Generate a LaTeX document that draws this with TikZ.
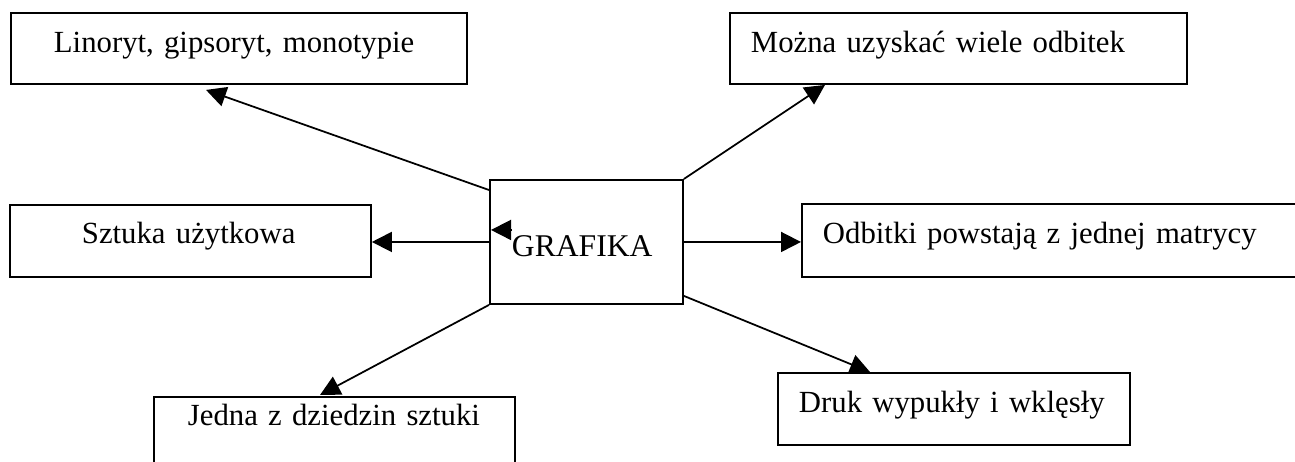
\documentclass[tikz,border=0pt]{standalone}
\usepackage{fontspec}
\setmainfont{Liberation Serif}
\usepackage{tikz}
\usetikzlibrary{arrows.meta,calc}
\setlength{\parindent}{0pt}

\begin{document}
\begin{tikzpicture}[x=0.02cm,y=-0.02cm]
\useasboundingbox (0,0) rectangle (1295,461);
\clip (0,0) rectangle (1295,461);
\begin{scope}[every node/.style={rectangle,draw,fill=white,line width=1.1pt,
              inner sep=0pt,anchor=north west,align=left,
              font=\fontsize{17.5}{21}\selectfont}]
    \node[text width=9.12cm,text height=0.80cm,text depth=0.62cm] (lin) at (10,12) {\hspace*{0.86cm}Linoryt, gipsoryt, monotypie};
    \node[text width=9.14cm,text height=0.80cm,text depth=0.62cm] (moz) at (729,12) {\hspace*{0.42cm}Można uzyskać wiele odbitek};
    \node[text width=7.22cm,text height=0.78cm,text depth=0.66cm] (szt) at (9,204) {\hspace*{1.44cm}Sztuka użytkowa};
    \node[text width=3.86cm,text height=1.54cm,text depth=0.94cm,font=\fontsize{18}{21}\selectfont] (gra) at (489,179) {\hspace*{0.44cm}GRAFIKA};
    \node[text width=10.4cm,text height=0.80cm,text depth=0.66cm] (odb) at (801,203) {\hspace*{0.42cm}Odbitki powstają z jednej matrycy};
    \node[text width=7.22cm,text height=0.58cm,text depth=1.22cm] (jed) at (153,396) {\hspace*{0.68cm}Jedna z dziedzin sztuki};
    \node[text width=7.04cm,text height=0.80cm,text depth=0.64cm] (dru) at (777,372) {\hspace*{0.42cm}Druk wypukły i wklęsły};
\end{scope}

\begin{scope}[>={Triangle[length=0.4cm,width=0.4cm]},
              every edge/.style={draw,line width=1pt}]
    \path [->] ($(gra.north west)+(0,11)$) edge ($(lin.south west)+(196,5)$);
    \path [->] (gra.north east) edge ($(moz.south west)+(96,0)$);
    \path [->] (gra.west) edge (gra.west -| szt.east);
    \path [->] (gra.east) edge (gra.east -| odb.west);
    \path [->] ($(gra.south east)+(0,-9)$) edge ($(dru.north west)+(93,0)$);
    \path [->] (gra.south west) edge ($(jed.north west)+(167,-1)$);
    \path [->] ($(gra.west)+(22,-12)$) edge ($(gra.west)+(2,-12)$);
\end{scope}
\end{tikzpicture}
\end{document}
